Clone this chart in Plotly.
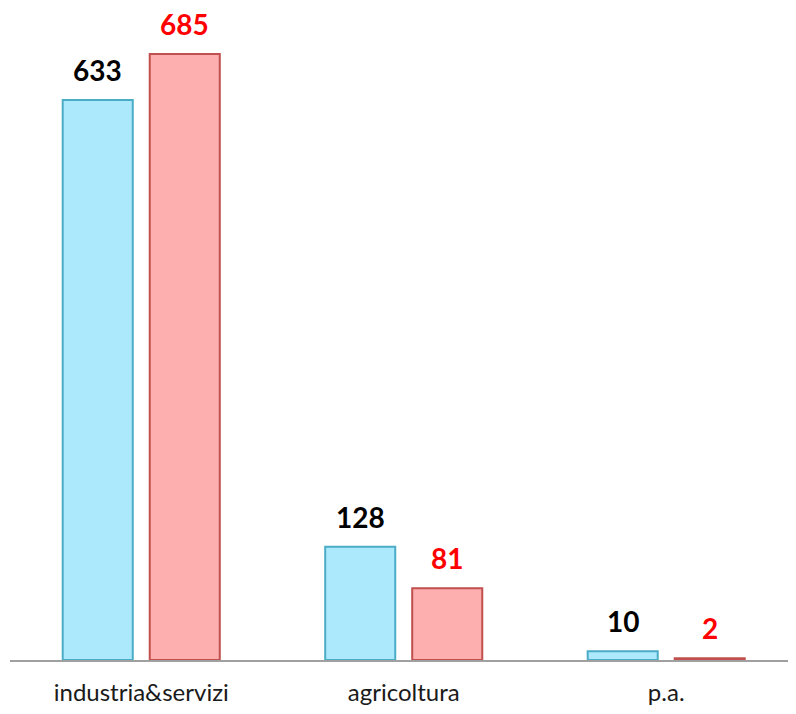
import plotly.graph_objects as go

categories = ["industria&servizi", "agricoltura", "p.a."]
series_a = [633, 128, 10]
series_b = [685, 81, 2]

fig = go.Figure()
fig.add_trace(go.Bar(
    x=categories, y=series_a, name="A",
    marker=dict(color="#ade9fd", line=dict(color="#4bacc6", width=2)),
))
fig.add_trace(go.Bar(
    x=categories, y=series_b, name="B",
    marker=dict(color="#fdafaf", line=dict(color="#c0504d", width=2)),
))

for vals, color, shift in [(series_a, "#000000", -43.5), (series_b, "#ff0000", 43.5)]:
    for c, v in zip(categories, vals):
        fig.add_annotation(
            x=c, y=v, text=f"<b>{v}</b>", showarrow=False,
            xshift=shift, yshift=11, yanchor="bottom",
            font=dict(family="Lato", size=28, color=color),
        )

fig.update_layout(
    width=780, height=698,
    margin=dict(l=2, r=0, t=0, b=40),
    paper_bgcolor="white", plot_bgcolor="white",
    barmode="group", bargap=0.337, bargroupgap=0.195,
    showlegend=False,
    xaxis=dict(range=[-0.5, 2.464], showline=True, linecolor="#a0a0a0", linewidth=2, ticks="",
               tickfont=dict(family="Lato", size=24, color="#1a1a1a"),
               ticklabelstandoff=10),
    yaxis=dict(range=[0, 737], visible=False, showgrid=False, zeroline=False),
)
fig.write_html("out.html")
